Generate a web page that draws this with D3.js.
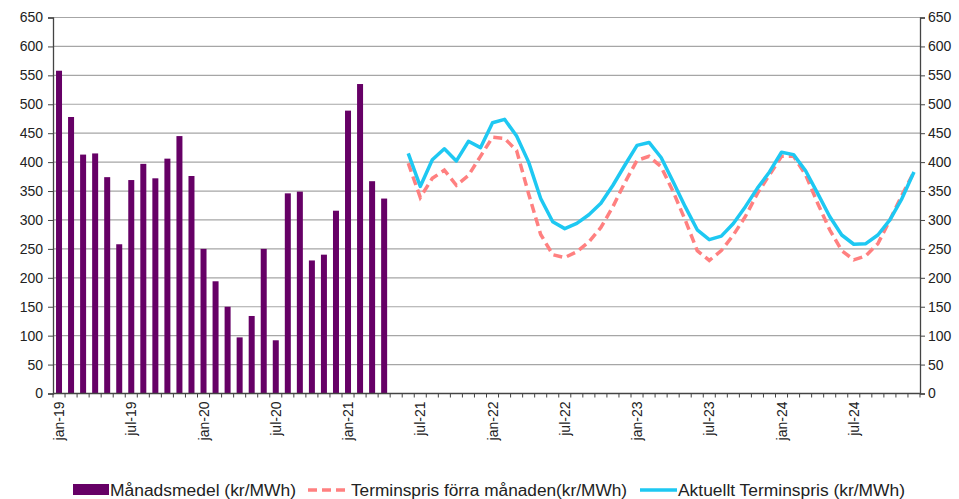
<!DOCTYPE html>
<html>
<head>
<meta charset="utf-8">
<script src="https://cdn.jsdelivr.net/npm/d3@7"></script>
<style>
  body { margin: 0; background: #fff; }
  svg { font-family: "Liberation Sans", Arial, sans-serif; }
</style>
</head>
<body>
<svg id="chart" width="959" height="499"></svg>
<script>
// months jan-19 .. dec-24
var months = d3.timeMonths(new Date(2019, 0, 1), new Date(2025, 0, 1));
var tickLabels = ['jan-19', 'jul-19', 'jan-20', 'jul-20', 'jan-21', 'jul-21',
                  'jan-22', 'jul-22', 'jan-23', 'jul-23', 'jan-24', 'jul-24'];
var yTicks = d3.range(0, 651, 50);

// Månadsmedel, jan-19 .. apr-21
var barStart = 0;
var monthlyAvg = [558, 478, 413, 415, 374, 258, 369, 397, 372, 406, 445, 376,
                  250, 194, 150, 97, 134, 250, 92, 346, 349, 230, 240, 316,
                  489, 535, 367, 337];

// forward prices, jun-21 .. dec-24
var lineStart = 29;
var prevForward = [398, 339, 372, 386, 360, 377, 410, 443, 441, 420, 345, 275,
                   240, 235, 245, 262, 287, 323, 365, 403, 410, 392, 349, 300,
                   247, 230, 247, 274, 306, 346, 378, 410, 410, 378, 329, 283,
                   247, 231, 238, 259, 300, 343, 383];
var currForward = [415, 358, 404, 423, 402, 436, 425, 468, 474, 445, 400, 337,
                   297, 285, 294, 309, 329, 360, 395, 429, 434, 408, 366, 323,
                   283, 266, 272, 294, 323, 355, 383, 417, 413, 385, 346, 306,
                   274, 258, 259, 274, 300, 337, 383];

var legendItems = ['Månadsmedel (kr/MWh)', 'Terminspris förra månaden(kr/MWh)', 'Aktuellt Terminspris (kr/MWh)'];

var monthNames = ['jan', 'feb', 'mar', 'apr', 'maj', 'jun', 'jul', 'aug', 'sep', 'okt', 'nov', 'dec'];
function label(d) { return monthNames[d.getMonth()] + '-' + String(d.getFullYear()).slice(2); }

var plotLeft = 53, plotRight = 920, plotTop = 17.5, plotBottom = 393.5;
var svg = d3.select('#chart');

var x = d3.scaleBand().domain(months.map(label)).range([plotLeft, plotRight]);
var y = d3.scaleLinear().domain([0, 650]).range([plotBottom, plotTop]);

// gridlines
svg.append('g')
    .selectAll('line')
    .data(yTicks.slice(1))
    .enter().append('line')
    .attr('x1', plotLeft).attr('x2', plotRight)
    .attr('y1', function(d) { return y(d); })
    .attr('y2', function(d) { return y(d); })
    .attr('stroke', '#a6a6a6')
    .attr('stroke-width', 1.2);

// bars
svg.append('g')
    .selectAll('rect')
    .data(monthlyAvg)
    .enter().append('rect')
    .attr('x', function(d, i) { return x(label(months[barStart + i])) + x.bandwidth() / 2 - 3; })
    .attr('width', 6)
    .attr('y', function(d) { return y(d); })
    .attr('height', function(d) { return y(0) - y(d); })
    .attr('fill', '#660066');

// lines
var line = d3.line()
    .x(function(d, i) { return x(label(months[lineStart + i])) + x.bandwidth() / 2; })
    .y(function(d) { return y(d); });

svg.append('path')
    .datum(prevForward)
    .attr('d', line)
    .attr('fill', 'none')
    .attr('stroke', '#ff8080')
    .attr('stroke-width', 3.5)
    .attr('stroke-dasharray', '9,5');

svg.append('path')
    .datum(currForward)
    .attr('d', line)
    .attr('fill', 'none')
    .attr('stroke', '#1ec8f2')
    .attr('stroke-width', 3.5)
    .attr('stroke-linejoin', 'round');

// axes
var yLeft = d3.axisLeft(y).tickValues(yTicks).tickSize(5).tickPadding(5);
var gl = svg.append('g').attr('transform', 'translate(' + plotLeft + ',0)').call(yLeft);
var yRight = d3.axisRight(y).tickValues(yTicks).tickSize(5).tickPadding(3);
var gr = svg.append('g').attr('transform', 'translate(' + plotRight + ',0)').call(yRight);
[gl, gr].forEach(function(g) {
    g.select('.domain').attr('stroke', '#444').attr('stroke-width', 1.3);
    g.selectAll('.tick line').attr('stroke', '#444');
    g.selectAll('text').attr('font-size', 14).attr('fill', '#222')
        .attr('font-family', '"Liberation Sans", Arial, sans-serif');
});

// x axis: ticks at month boundaries
var xg = svg.append('g');
xg.append('line')
    .attr('x1', plotLeft).attr('x2', plotRight)
    .attr('y1', y(0)).attr('y2', y(0))
    .attr('stroke', '#444').attr('stroke-width', 1.3);
xg.selectAll('line.tk')
    .data(months)
    .enter().append('line')
    .attr('class', 'tk')
    .attr('x1', function(d) { return x(label(d)); })
    .attr('x2', function(d) { return x(label(d)); })
    .attr('y1', y(0)).attr('y2', y(0) + 4)
    .attr('stroke', '#444');
xg.append('line')
    .attr('x1', plotRight).attr('x2', plotRight)
    .attr('y1', y(0)).attr('y2', y(0) + 4)
    .attr('stroke', '#444');
xg.selectAll('text')
    .data(tickLabels)
    .enter().append('text')
    .attr('transform', function(d) {
        return 'translate(' + (x(d) + x.bandwidth() / 2 + 5) + ',' + (y(0) + 8) + ') rotate(-90)';
    })
    .attr('text-anchor', 'end')
    .attr('font-size', 14)
    .attr('fill', '#222')
    .text(function(d) { return d; });

// legend
var lg = svg.append('g');
lg.append('rect').attr('x', 73).attr('y', 484).attr('width', 36).attr('height', 11).attr('fill', '#660066');
lg.append('line').attr('x1', 308).attr('x2', 350).attr('y1', 490).attr('y2', 490)
    .attr('stroke', '#ff8080').attr('stroke-width', 3.5).attr('stroke-dasharray', '9,5');
lg.append('line').attr('x1', 640).attr('x2', 677).attr('y1', 490).attr('y2', 490)
    .attr('stroke', '#1ec8f2').attr('stroke-width', 3.5);
var legX = [110, 351, 678];
var legW = [186, 276, 227];
lg.selectAll('text')
    .data(legendItems)
    .enter().append('text')
    .attr('x', function(d, i) { return legX[i]; })
    .attr('y', 496)
    .attr('font-size', 16)
    .attr('fill', '#222')
    .attr('textLength', function(d, i) { return legW[i]; })
    .attr('lengthAdjust', 'spacingAndGlyphs')
    .text(function(d) { return d; });
</script>
</body>
</html>
